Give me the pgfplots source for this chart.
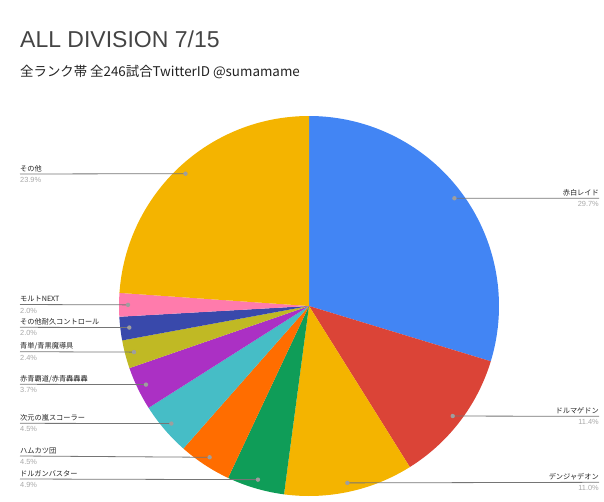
\documentclass[border=0pt]{standalone}
\usepackage{pgfplots}
\pgfplotsset{compat=1.18}
\usepackage{pgfplotstable}
\usepackage{fontspec}
\setmainfont{Liberation Sans}
\newfontfamily\jp{Noto Sans CJK JP}
\definecolor{c1}{HTML}{4285F4}
\definecolor{c2}{HTML}{DB4437}
\definecolor{c3}{HTML}{F4B400}
\definecolor{c4}{HTML}{0F9D58}
\definecolor{c5}{HTML}{FF6D00}
\definecolor{c6}{HTML}{46BDC6}
\definecolor{c7}{HTML}{AB30C4}
\definecolor{c8}{HTML}{C0B924}
\definecolor{c9}{HTML}{3949AB}
\definecolor{c10}{HTML}{FF7BAC}
\definecolor{c11}{HTML}{F4B400}
\definecolor{lead}{HTML}{757575}
\definecolor{dotc}{HTML}{9E9E9E}
\definecolor{pctc}{HTML}{A8A8A8}
\definecolor{titlec}{HTML}{444444}
\definecolor{txt}{HTML}{222222}
% pct, colour, label line end x, label line y
\pgfplotstableread{
pct  col  lx   ly
29.7 c1   599  198.3
11.4 c2   599  416.3
11.0 c3   599  482.3
4.9  c4   20   479.0
4.5  c5   20   456.0
4.5  c6   20   423.3
3.7  c7   20   384.3
2.4  c8   20   351.7
2.0  c9   20   327.3
2.0  c10  20   304.5
23.9 c11  20   174.0
}\piedata
\begin{document}
\begin{tikzpicture}
\begin{axis}[x=1pt,y=1pt,xmin=0,xmax=604,ymin=0,ymax=501,y dir=reverse,
  hide axis,scale only axis,clip=false,anchor=south west,at={(0,0)}]
\pgfplotsextra{
  \path (axis cs:0,0) rectangle (axis cs:604,501);
  \gdef\cum{0}
  \foreach \i in {0,...,10}{
    \pgfplotstablegetelem{\i}{pct}\of\piedata \let\p\pgfplotsretval
    \pgfplotstablegetelem{\i}{col}\of\piedata \let\c\pgfplotsretval
    \pgfmathsetmacro\a{90-3.6*\cum}
    \pgfmathsetmacro\b{90-3.6*(\cum+\p)}
    \fill[\c] (axis cs:309,306) -- ++(\a:190pt) arc[start angle=\a,end angle=\b,radius=190pt] -- cycle;
    \pgfmathsetmacro\newcum{\cum+\p}
    \global\let\cum\newcum
  }
  \gdef\cum{0}
  \foreach \i in {0,...,10}{
    \pgfplotstablegetelem{\i}{pct}\of\piedata \let\p\pgfplotsretval
    \pgfplotstablegetelem{\i}{lx}\of\piedata \let\lx\pgfplotsretval
    \pgfplotstablegetelem{\i}{ly}\of\piedata \let\ly\pgfplotsretval
    \pgfmathsetmacro\m{90-3.6*(\cum+\p/2)}
    \draw[lead,line width=0.8pt] (axis cs:309,306) ++(\m:181pt) -- (axis cs:\lx,\ly);
    \fill[dotc] (axis cs:309,306) ++(\m:181pt) circle[radius=2.2pt];
    \pgfmathsetmacro\newcum{\cum+\p}
    \global\let\cum\newcum
  }
  % right labels
  \foreach \n/\v/\y in {赤白レイド/29.7/198.3, ドルマゲドン/11.4/416.3, デンジャデオン/11.0/482.3}{
    \pgfmathsetmacro\ya{\y-3}\pgfmathsetmacro\yb{\y+8.5}
    \node[anchor=base east,inner sep=0,text=txt,font=\jp\fontsize{7.2}{8}\selectfont] at (axis cs:599,\ya) {\n};
    \node[anchor=base east,inner sep=0,text=pctc,font=\fontsize{7.4}{8}\selectfont] at (axis cs:599,\yb) {\v\%};
  }
  % left labels
  \foreach \n/\v/\y in {その他/23.9/174.0, モルトNEXT/2.0/304.5, その他耐久コントロール/2.0/327.3, {青単/青黒魔導具}/2.4/351.7, {赤青覇道/赤青轟轟轟}/3.7/384.3, 次元の嵐スコーラー/4.5/423.3, ハムカツ団/4.5/456.0, ドルガンバスター/4.9/479.0}{
    \pgfmathsetmacro\ya{\y-3}\pgfmathsetmacro\yb{\y+8.5}
    \node[anchor=base west,inner sep=0,text=txt,font=\jp\fontsize{7.2}{8}\selectfont] at (axis cs:20,\ya) {\n};
    \node[anchor=base west,inner sep=0,text=pctc,font=\fontsize{7.4}{8}\selectfont] at (axis cs:20,\yb) {\v\%};
  }
  % title
  \node[anchor=base west,inner sep=0,text=titlec,font=\fontsize{23}{27}\selectfont] at (axis cs:20,47.7) {ALL DIVISION 7/15};
  \node[anchor=base west,inner sep=0,text=txt,font=\jp\fontsize{13.4}{16}\selectfont] at (axis cs:20,76) {全ランク帯 全246試合TwitterID @sumamame};
}
\end{axis}
\end{tikzpicture}
\end{document}
